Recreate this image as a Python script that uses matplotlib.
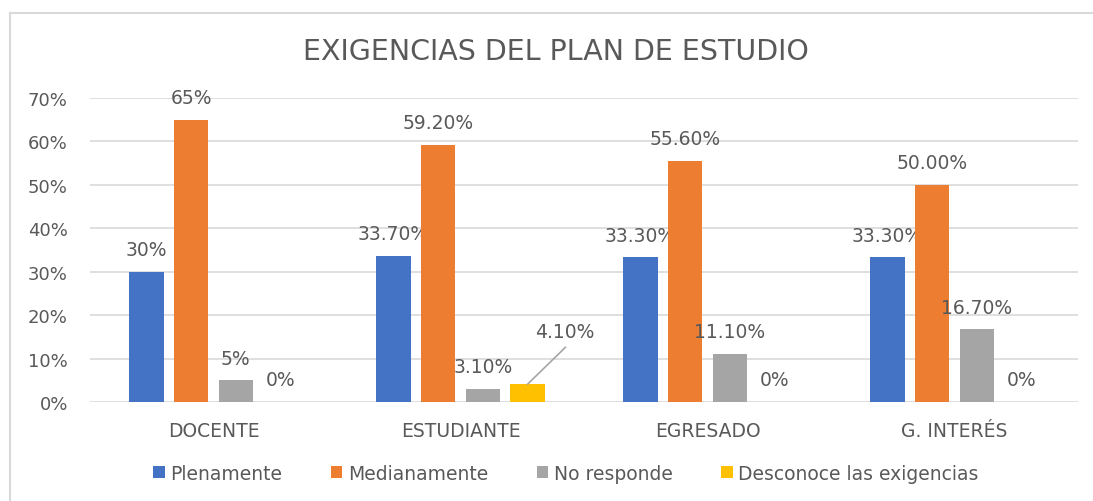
import numpy as np
import matplotlib.pyplot as plt
from matplotlib.lines import Line2D

plt.rcParams['font.family'] = ['DejaVu Sans']

# ---------------- data ----------------
categorias = ['DOCENTE', 'ESTUDIANTE', 'EGRESADO', 'G. INTERÉS']
series = ['Plenamente', 'Medianamente', 'No responde', 'Desconoce las exigencias']
plenamente = [30.0, 33.7, 33.3, 33.3]
medianamente = [65.0, 59.2, 55.6, 50.0]
no_responde = [5.0, 3.1, 11.1, 16.7]
desconoce = [0.0, 4.1, 0.0, 0.0]
etq_plenamente = ['30%', '33.70%', '33.30%', '33.30%']
etq_medianamente = ['65%', '59.20%', '55.60%', '50.00%']
etq_no_responde = ['5%', '3.10%', '11.10%', '16.70%']
etq_desconoce = ['0%', '4.10%', '0%', '0%']

valores = [plenamente, medianamente, no_responde, desconoce]
etiquetas = [etq_plenamente, etq_medianamente, etq_no_responde, etq_desconoce]
colores = ['#4472C4', '#ED7D31', '#A5A5A5', '#FFC000']
txt = '#595959'

# ---------------- figure ----------------
fig = plt.figure(figsize=(10.93, 5.02), dpi=100)
ax = fig.add_axes([90/1093, 1-403/502, (1078-90)/1093, (403-99)/502])

x = np.arange(len(categorias))
ancho = 0.14
paso = 0.181
for i in range(4):
    pos = x + (i - 1.5)*paso
    ax.bar(pos, valores[i], width=ancho, color=colores[i], label=series[i], zorder=3)
    for j in range(len(categorias)):
        if i == 3 and j == 1:
            # label moved away with a leader line
            ax.annotate(etiquetas[i][j], xy=(pos[j], valores[i][j]),
                        xytext=(37, 53), textcoords='offset pixels',
                        ha='center', va='center', fontsize=13.5, color=txt)
            ax.annotate('', xy=(pos[j], valores[i][j]),
                        xytext=(38, 37), textcoords='offset pixels',
                        arrowprops=dict(arrowstyle='-', color='#A5A5A5', lw=1.2,
                                        shrinkA=0, shrinkB=0))
        else:
            ax.annotate(etiquetas[i][j], xy=(pos[j], valores[i][j]),
                        xytext=(0, 22), textcoords='offset pixels',
                        ha='center', va='center', fontsize=13.5, color=txt)

ax.set_xlim(-0.5, 3.5)
ax.set_ylim(0, 70)
ax.set_yticks(np.arange(0, 71, 10))
ax.set_yticklabels([f'{v}%' for v in range(0, 71, 10)])
ax.set_xticks(x)
ax.set_xticklabels(categorias)
ax.tick_params(axis='both', length=0, colors=txt, labelsize=13)
ax.tick_params(axis='y', pad=16)
ax.tick_params(axis='x', pad=14, labelsize=13.5)
ax.grid(axis='y', color='#D9D9D9', lw=1.2, zorder=0)
for s in ax.spines.values():
    s.set_visible(False)

fig.text(556/1093, 1-52/502, 'EXIGENCIAS DEL PLAN DE ESTUDIO', ha='center', va='center',
         fontsize=20.5, color=txt)

ax.legend(loc='center', bbox_to_anchor=(566/1093, 1 - 474/502), bbox_transform=fig.transFigure,
          ncol=4, frameon=False, fontsize=13.5, labelcolor=txt,
          handlelength=0.6, handleheight=0.6, handletextpad=0.3, columnspacing=2.6)

# light chart border
fig.add_artist(Line2D([10/1093, 10/1093], [0, 1-14/502], color='#D9D9D9', lw=1.5,
                      transform=fig.transFigure))
fig.add_artist(Line2D([10/1093, 1], [1-14/502, 1-14/502], color='#D9D9D9', lw=1.5,
                      transform=fig.transFigure))

fig.savefig('out.png', dpi=100)
